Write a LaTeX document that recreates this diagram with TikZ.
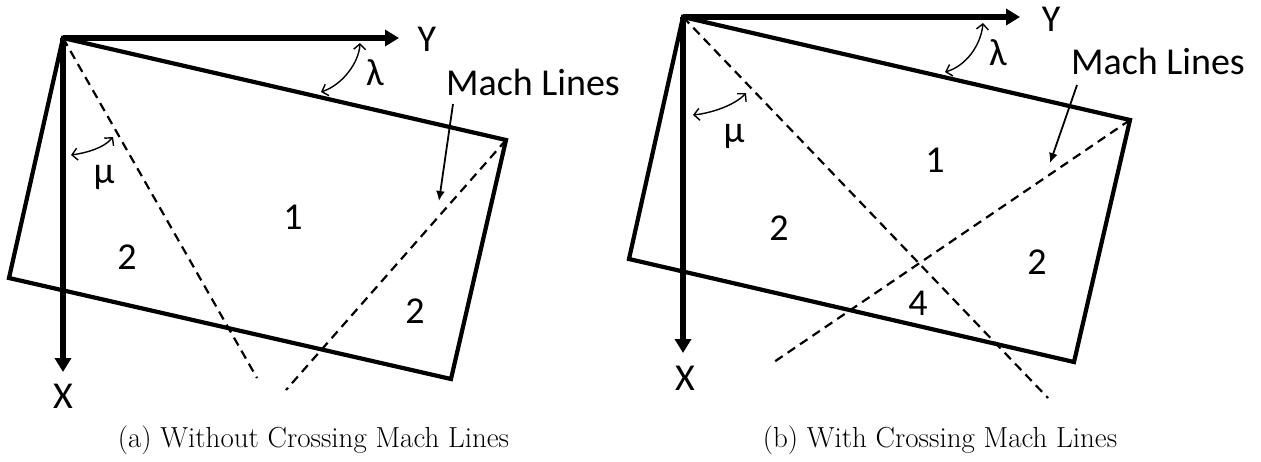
\documentclass[tikz,border=0pt]{standalone}
\usepackage{fontspec}
\newfontfamily\labfont{Carlito}
\usetikzlibrary{arrows.meta}
\begin{document}
\begin{tikzpicture}[x=1pt,y=-1pt,
  axis/.style={line width=5.4pt,-{Triangle[length=14pt,width=16pt]}},
  plate/.style={line width=4.2pt,line join=miter},
  mach/.style={line width=2.2pt,dash pattern=on 9pt off 6pt},
  angarr/.style={line width=1.4pt,{Straight Barb[length=5.5pt,width=12pt]}-{Straight Barb[length=5.5pt,width=12pt]}},
  pointer/.style={line width=1.8pt,-{Latex[length=10pt,width=9pt]}},
  lab/.style={font=\labfont\fontsize{38}{40}\selectfont,inner sep=0pt},
  captxt/.style={font=\fontsize{29}{33}\selectfont,inner sep=0pt}]
\useasboundingbox (0,0) rectangle (1261,461);

% ---------- panel (a) ----------
\coordinate (aO) at (63,38);
\coordinate (aTR) at (506,140);
\coordinate (aBR) at (451,379);
\coordinate (aBL) at (9,278);
\coordinate (aYt) at (399,38);
\coordinate (aXt) at (63,372);
\coordinate (aD1) at (257,378);
\coordinate (aD2) at (286,390);
\coordinate (aMs) at (453,104);
\coordinate (aMe) at (439,201);
\coordinate (aL1) at (360,43);
\coordinate (aL2) at (321,92);
\coordinate (aU1) at (71,155);
\coordinate (aU2) at (113,137);

\draw[plate] (aO) -- (aTR) -- (aBR) -- (aBL) -- cycle;
\draw[mach] (aO) -- (aD1);
\draw[mach] (aTR) -- (aD2);
\draw[axis] (aO) -- (aYt);
\draw[axis] (aO) -- (aXt);
\draw[angarr] (aL1) .. controls (359,63) and (342,85) .. (aL2);
\draw[angarr] (aU1) .. controls (86,153) and (104,148) .. (aU2);
\draw[pointer] (aMs) -- (aMe);

\node[lab] (aY) at (427,39) {Y};
\node[lab] (aX) at (63,396) {X};
\node[lab] (alam) at (375,73) {λ};
\node[lab] (amu) at (104,177) {μ};
\node[lab] (aMach) at (533,82) {Mach Lines};
\node[lab] (a1) at (293,217) {1};
\node[lab] (a2l) at (127,257) {2};
\node[lab] (a2r) at (415,311) {2};
\node[captxt] (acap) at (313.5,440) {(a) Without Crossing Mach Lines};

% ---------- panel (b) ----------
\coordinate (bO) at (683,17);
\coordinate (bTR) at (1130,120);
\coordinate (bBR) at (1074,362);
\coordinate (bBL) at (629,259);
\coordinate (bYt) at (1020,17);
\coordinate (bXt) at (683,353);
\coordinate (bD1) at (1048,398);
\coordinate (bD2) at (774,362);
\coordinate (bMs) at (1077,85);
\coordinate (bMe) at (1050,163);
\coordinate (bL1) at (983,23);
\coordinate (bL2) at (945,72);
\coordinate (bU1) at (693,115);
\coordinate (bU2) at (746,93);

\draw[plate] (bO) -- (bTR) -- (bBR) -- (bBL) -- cycle;
\draw[mach] (bO) -- (bD1);
\draw[mach] (bTR) -- (bD2);
\draw[axis] (bO) -- (bYt);
\draw[axis] (bO) -- (bXt);
\draw[angarr] (bL1) .. controls (981,45) and (966,66) .. (bL2);
\draw[angarr] (bU1) .. controls (712,113) and (735,105) .. (bU2);
\draw[pointer] (bMs) -- (bMe);

\node[lab] (bY) at (1051,19) {Y};
\node[lab] (bX) at (685,378) {X};
\node[lab] (blam) at (998,53) {λ};
\node[lab] (bmu) at (734,136) {μ};
\node[lab] (bMach) at (1158,61) {Mach Lines};
\node[lab] (b1) at (935,160) {1};
\node[lab] (b2l) at (779,228) {2};
\node[lab] (b4) at (918,303) {4};
\node[lab] (b2r) at (1037,262) {2};
\node[captxt] (bcap) at (940,440) {(b) With Crossing Mach Lines};
\end{tikzpicture}
\end{document}
